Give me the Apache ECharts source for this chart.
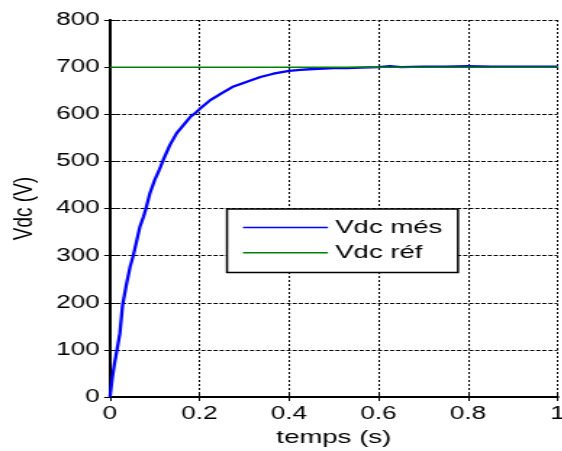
<!DOCTYPE html>
<html>
<head>
<meta charset="utf-8">
<script src="https://cdn.jsdelivr.net/npm/echarts@6/dist/echarts.min.js"></script>
<style>
html,body{margin:0;padding:0;background:#fff;overflow:hidden;}
#wrap{width:562px;height:451px;overflow:hidden;position:relative;}
#c{width:387.59px;height:451px;transform:scaleX(1.45);transform-origin:0 0;}
</style>
</head>
<body>
<div id="wrap"><div id="c"></div></div>
<script>
// time (s)
const tMes = [0, 0.005, 0.01, 0.016, 0.022, 0.028, 0.037, 0.045, 0.052, 0.06, 0.067, 0.075, 0.08, 0.089, 0.1, 0.11, 0.119, 0.134, 0.149, 0.164, 0.179, 0.19, 0.2, 0.224, 0.25, 0.276, 0.306, 0.336, 0.365, 0.4, 0.425, 0.455, 0.5, 0.53, 0.56, 0.6, 0.625, 0.65, 0.7, 0.75, 0.8, 0.85, 0.9, 0.95, 1.0];
// Vdc measured (V)
const vMes = [0, 40, 71, 102, 135, 195, 241, 277, 300, 333, 362, 383, 399, 432, 461, 482, 503, 535, 560, 577, 594, 602, 611, 630, 645, 659, 669, 679, 686, 692, 694, 696, 698, 698, 699, 700, 702, 700, 701, 701, 702, 701, 701, 701, 701];
// Vdc reference (V)
const tRef = [0, 1];
const vRef = [700, 700];
const xTicks = [0, 0.2, 0.4, 0.6, 0.8, 1];
const yTicks = [0, 100, 200, 300, 400, 500, 600, 700, 800];
const seriesNames = ['Vdc més', 'Vdc réf'];

const FONT = 'Liberation Sans';
const chart = echarts.init(document.getElementById('c'), null, {renderer: 'canvas'});

const frameAxis = {
  axisLine: {show: true, lineStyle: {color: '#000', width: 2}},
  axisTick: {show: true, inside: true, length: 4, lineStyle: {color: '#000', width: 1}},
};

chart.setOption({
  animation: false,
  backgroundColor: '#fff',
  grid: {left: 75.86, right: 3.45, top: 20, bottom: 54, containLabel: false, outerBoundsMode: 'none'},
  legend: {
    orient: 'vertical',
    left: 156.55, top: 209,
    data: seriesNames,
    icon: 'rect',
    itemWidth: 58.6, itemHeight: 1.5,
    itemGap: 6.2,
    padding: [9, 10.8, 10.4, 11],
    backgroundColor: '#fff',
    borderColor: '#000', borderWidth: 1.5, borderRadius: 0,
    textStyle: {fontFamily: FONT, fontSize: 19, color: '#000', lineHeight: 19},
  },
  xAxis: [{
    type: 'value', min: xTicks[0], max: xTicks[xTicks.length - 1], interval: 0.2,
    position: 'bottom',
    name: 'temps (s)', nameLocation: 'middle', nameGap: 30,
    nameTextStyle: {fontFamily: FONT, fontSize: 19, color: '#000'},
    axisLabel: {fontFamily: FONT, fontSize: 18, color: '#000', margin: 8},
    splitLine: {show: true, lineStyle: {color: '#000', width: 1, type: [2, 2]}},
    ...frameAxis,
  }, {
    type: 'value', min: xTicks[0], max: xTicks[xTicks.length - 1], interval: 0.2,
    position: 'top', axisLabel: {show: false}, splitLine: {show: false},
    ...frameAxis,
  }],
  yAxis: [{
    type: 'value', min: yTicks[0], max: yTicks[yTicks.length - 1], interval: 100,
    position: 'left',
    name: 'Vdc (V)', nameLocation: 'middle', nameGap: 50,
    nameTextStyle: {fontFamily: FONT, fontSize: 19, color: '#000'},
    axisLabel: {fontFamily: FONT, fontSize: 18, color: '#000', margin: 7},
    splitLine: {show: true, lineStyle: {color: '#000', width: 1, type: [2.8, 1.4]}},
    ...frameAxis,
  }, {
    type: 'value', min: yTicks[0], max: yTicks[yTicks.length - 1], interval: 100,
    position: 'right', axisLabel: {show: false}, splitLine: {show: false},
    ...frameAxis,
  }],
  series: [{
    name: seriesNames[0], type: 'line', symbol: 'none',
    data: tMes.map((t, i) => [t, vMes[i]]),
    lineStyle: {color: '#0000ff', width: 2.3}, itemStyle: {color: '#0000ff'},
    z: 3,
  }, {
    name: seriesNames[1], type: 'line', symbol: 'none',
    data: tRef.map((t, i) => [t, vRef[i]]),
    lineStyle: {color: '#008000', width: 1.5}, itemStyle: {color: '#008000'},
    z: 4,
  }],
});
</script>
</body>
</html>
